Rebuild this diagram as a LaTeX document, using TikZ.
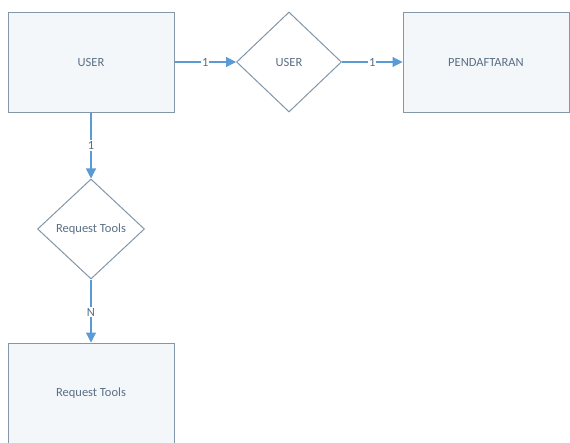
\documentclass[tikz,border=0pt]{standalone}
\usepackage{fontspec}
\setmainfont{Carlito}
\usetikzlibrary{shapes.geometric,arrows.meta}
\definecolor{edgecol}{HTML}{8397A8}
\definecolor{fillcol}{HTML}{F4F7FA}
\definecolor{linecol}{HTML}{5B9BD5}
\definecolor{textcol}{HTML}{5A6F84}
\tikzset{
  entity/.style={draw=edgecol, line width=1pt, fill=fillcol, rectangle, minimum width=166pt, minimum height=100pt, inner sep=0pt, text=textcol, font=\fontsize{12.5}{14}\selectfont},
  relation/.style={draw=edgecol, line width=1pt, fill=white, diamond, aspect=1.05, minimum width=105pt, minimum height=100pt, inner sep=0pt, text=textcol, font=\fontsize{12.5}{14}\selectfont},
  conn/.style={draw=linecol, line width=1.1pt, -{Triangle[length=10pt,width=10pt]}},
  card/.style={fill=white, text=textcol, inner sep=1pt, font=\fontsize{12.5}{14}\selectfont}
}
\begin{document}
\begin{tikzpicture}[x=1pt,y=-1pt]
\useasboundingbox (0,0) rectangle (570,442);
\clip (0,0) rectangle (570,442);
\fill[white] (0,0) rectangle (570,442);
\node[entity] (user) at (91,62) {USER};
\node[relation] (ruser) at (289,62) {USER};
\node[entity] (pend) at (486,62) {PENDAFTARAN};
\node[relation, minimum width=107pt] (rreq) at (91,229) {Request Tools};
\node[entity] (req) at (91,393) {Request Tools};
\draw[conn] (user) -- node[card] {1} (ruser);
\draw[conn] (ruser) -- node[card] {1} (pend);
\draw[conn] (user) -- node[card, pos=0.5] {1} (rreq);
\draw[conn] (rreq) -- node[card, pos=0.52] {N} (req);
\end{tikzpicture}
\end{document}
